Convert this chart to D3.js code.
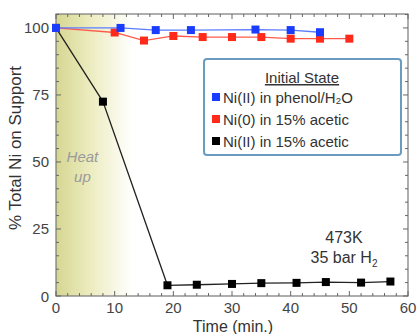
<!DOCTYPE html>
<html><head><meta charset="utf-8">
<script src="https://cdn.jsdelivr.net/npm/d3@7"></script>
<style>body{margin:0;background:#fff}svg{display:block}text{font-family:"Liberation Sans",Arial,sans-serif}</style>
</head><body>
<svg id="c" width="420" height="334"></svg>
<script>
const blueT = [0, 11, 17, 23, 34, 40, 45];
const blueV = [100, 100, 99.2, 99.2, 99.4, 99.2, 98.4];
const redT = [0, 10, 15, 20, 25, 30, 35, 40, 45, 50];
const redV = [100, 98.3, 95.3, 97.0, 96.6, 96.6, 96.6, 96.0, 96.0, 96.0];
const blackT = [0, 8, 19, 24, 30, 35, 41, 46, 52, 57];
const blackV = [100, 72.5, 4.0, 4.2, 4.5, 4.8, 4.9, 5.2, 5.0, 5.4];
const xTicks = [0, 10, 20, 30, 40, 50, 60];
const yTicks = [0, 25, 50, 75, 100];
const legendLabels = ["Ni(II) in phenol/H₂O", "Ni(0) in 15% acetic", "Ni(II) in 15% acetic"];
const colors = ["#1a3cff", "#ff2a1a", "#000000"];
const lineColors = ["#5a7dff", "#ff5a4a", "#222222"];

const svg = d3.select("#c");
const L = 56, R = 408, T = 14, B = 296;
const x = d3.scaleLinear().domain([0, 60]).range([L, R]);
const y = d3.scaleLinear().domain([0, 105.2]).range([B, T]);

// gradient heat-up region
const defs = svg.append("defs");
const g = defs.append("linearGradient").attr("id", "hg").attr("x1", 0).attr("x2", 1).attr("y1", 0).attr("y2", 0);
g.append("stop").attr("offset", "0%").attr("stop-color", "#d6d692");
g.append("stop").attr("offset", "45%").attr("stop-color", "#ececc0");
g.append("stop").attr("offset", "100%").attr("stop-color", "#ffffff");
svg.append("rect").attr("x", x(0)).attr("y", T).attr("width", x(13) - x(0)).attr("height", B - T).attr("fill", "url(#hg)");

// frame
svg.append("rect").attr("x", L).attr("y", T).attr("width", R - L).attr("height", B - T)
  .attr("fill", "none").attr("stroke", "#777").attr("stroke-width", 1.2);

// ticks (inward)
const tg = svg.append("g").attr("stroke", "#666").attr("stroke-width", 1);
d3.range(0, 61, 2).forEach(t => {
  const len = t % 10 === 0 ? 5 : 3;
  tg.append("line").attr("x1", x(t)).attr("x2", x(t)).attr("y1", B).attr("y2", B - len);
  tg.append("line").attr("x1", x(t)).attr("x2", x(t)).attr("y1", T).attr("y2", T + len);
});
d3.range(0, 106, 5).forEach(v => {
  const len = v % 25 === 0 ? 5 : 3;
  tg.append("line").attr("x1", L).attr("x2", L + len).attr("y1", y(v)).attr("y2", y(v));
  tg.append("line").attr("x1", R).attr("x2", R - len).attr("y1", y(v)).attr("y2", y(v));
});

// tick labels
svg.append("g").selectAll("text").data(xTicks).join("text")
  .attr("x", d => x(d)).attr("y", B + 17).attr("text-anchor", "middle")
  .attr("font-size", 15).attr("fill", "#444").text(d => d);
svg.append("g").selectAll("text").data(yTicks).join("text")
  .attr("x", L - 7).attr("y", d => y(d) + 5.5).attr("text-anchor", "end")
  .attr("font-size", 15).attr("fill", "#444").text(d => d);

// axis titles
svg.append("text").attr("x", 233).attr("y", 332).attr("text-anchor", "middle")
  .attr("font-size", 16).attr("fill", "#333").text("Time (min.)");
svg.append("text").attr("transform", `translate(21,148) rotate(-90)`)
  .attr("text-anchor", "middle").attr("font-size", 17).attr("fill", "#333").text("% Total Ni on Support");

// heat up label
svg.append("text").attr("x", x(4.5)).attr("y", 162).attr("text-anchor", "middle")
  .attr("font-size", 15).attr("font-style", "italic").attr("fill", "#9a9a9a").text("Heat");
svg.append("text").attr("x", x(4.5)).attr("y", 182).attr("text-anchor", "middle")
  .attr("font-size", 15).attr("font-style", "italic").attr("fill", "#9a9a9a").text("up");

// series
const series = [[blueT, blueV], [redT, redV], [blackT, blackV]];
const line = d3.line().x(d => x(d[0])).y(d => y(d[1]));
[2, 1, 0].forEach(i => {
  const pts = series[i][0].map((t, j) => [t, series[i][1][j]]);
  svg.append("path").datum(pts).attr("d", line).attr("fill", "none")
    .attr("stroke", lineColors[i]).attr("stroke-width", 1.3);
  svg.append("g").selectAll("rect").data(pts).join("rect")
    .attr("x", d => x(d[0]) - 4).attr("y", d => y(d[1]) - 4)
    .attr("width", 8).attr("height", 8).attr("fill", colors[i]);
});

// annotation
svg.append("text").attr("x", 344).attr("y", 243).attr("text-anchor", "middle")
  .attr("font-size", 16).attr("fill", "#333").text("473K");
const an = svg.append("text").attr("x", 344).attr("y", 263).attr("text-anchor", "middle")
  .attr("font-size", 16).attr("fill", "#333");
an.append("tspan").text("35 bar H");
an.append("tspan").attr("font-size", 10).attr("dy", 4).text("2");

// legend
svg.append("rect").attr("x", 204).attr("y", 59).attr("width", 197).attr("height", 96).attr("rx", 3)
  .attr("fill", "#fff").attr("stroke", "#6a9cc0").attr("stroke-width", 2);
svg.append("text").attr("x", 302).attr("y", 83).attr("text-anchor", "middle")
  .attr("font-size", 15).attr("fill", "#333").attr("text-decoration", "underline").text("Initial State");
legendLabels.forEach((lab, i) => {
  const yy = 103 + i * 22;
  svg.append("rect").attr("x", 212).attr("y", yy - 10).attr("width", 8).attr("height", 8).attr("fill", colors[i]);
  svg.append("text").attr("x", 223).attr("y", yy).attr("font-size", 15).attr("fill", "#333").text(lab);
});
</script>
</body></html>
